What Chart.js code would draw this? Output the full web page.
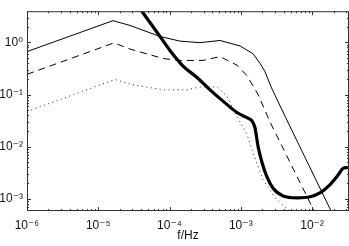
<!DOCTYPE html>
<html>
<head>
<meta charset="utf-8">
<script src="https://cdn.jsdelivr.net/npm/chart.js@4.4.0/dist/chart.umd.min.js"></script>
<style>
  html, body { margin: 0; padding: 0; background: #fff; }
</style>
</head>
<body>
<canvas id="psd-chart" width="349" height="246"></canvas>
<script>
// Tick values and labels (log axes, decades only)
const xTicks = [1e-6, 1e-5, 1e-4, 1e-3, 1e-2];
const xTickLabels = ['10⁻⁶', '10⁻⁵', '10⁻⁴', '10⁻³', '10⁻²'];
const yTicks = [1e-3, 1e-2, 1e-1, 1];
const yTickLabels = ['10⁻³', '10⁻²', '10⁻¹', '10⁰'];

// Thin solid curve
const solidFreq = [1e-6, 1.61e-5, 2.79e-5, 7.36e-5, 1.40e-4, 2.68e-4, 5.12e-4, 9.75e-4, 1.49e-3, 1.86e-3, 2.19e-3, 2.66e-3, 4.18e-3, 1.85e-2];
const solidVals = [0.667, 2.62, 2.12, 1.30, 1.06, 0.99, 1.09, 0.857, 0.605, 0.398, 0.273, 0.140, 0.0382, 5.8e-4];

// Dashed curve
const dashedFreq = [1e-6, 1.66e-5, 2.79e-5, 8.11e-5, 1.40e-4, 2.95e-4, 5.12e-4, 8.86e-4, 1.22e-3, 1.75e-3, 2.57e-3, 1.07e-2];
const dashedVals = [0.244, 0.98, 0.746, 0.491, 0.452, 0.452, 0.534, 0.366, 0.231, 0.100, 0.0297, 5.8e-4];

// Dotted curve
const dottedFreq = [1e-6, 1.72e-5, 2.79e-5, 8.11e-5, 1.76e-4, 2.68e-4, 4.65e-4, 6.41e-4, 7.78e-4, 9.75e-4, 1.22e-3, 1.49e-3, 2.05e-3, 3.03e-3, 4.32e-3, 5.24e-3];
const dottedVals = [0.047, 0.195, 0.158, 0.123, 0.123, 0.140, 0.140, 0.092, 0.0533, 0.0297, 0.0172, 0.00746, 0.00231, 0.00104, 6.58e-4, 5.5e-4];

// Thick curve
const thickFreq = [3.27e-5, 7.36e-5, 1.02e-4, 1.55e-4, 2.43e-4, 3.70e-4, 5.63e-4, 8.86e-4, 1.26e-3, 1.44e-3, 1.58e-3, 1.75e-3, 1.99e-3, 2.33e-3, 2.84e-3, 3.92e-3, 6.15e-3, 9.37e-3, 1.29e-2, 1.79e-2, 2.32e-2, 2.72e-2, 3.2e-2];
const thickVals = [6.05, 1.30, 0.695, 0.351, 0.212, 0.123, 0.0746, 0.0451, 0.0351, 0.031, 0.0231, 0.01, 0.00491, 0.00262, 0.00158, 0.00113, 0.00104, 0.00109, 0.00129, 0.00187, 0.00285, 0.00382, 0.00398];

const axisColor = '#333';
const fontFamily = '"Liberation Sans", Arial, "DejaVu Sans", sans-serif';

function toPoints(xs, ys) {
    return xs.map((x, i) => ({ x: x, y: ys[i] }));
}

// Box around the plot with inward major/minor ticks on all four sides
const boxTicks = {
    id: 'boxTicks',
    afterDraw(chart) {
        const { ctx, chartArea: a, scales } = chart;
        ctx.save();
        ctx.strokeStyle = axisColor;
        ctx.lineWidth = 1;
        ctx.beginPath();
        for (let d = -7; d <= 1; d++) {
            for (let m = 1; m <= 9; m++) {
                const v = m * Math.pow(10, d);
                const len = m === 1 ? 4 : 2;
                if (v >= scales.x.min && v <= scales.x.max) {
                    const px = Math.round(scales.x.getPixelForValue(v)) + 0.5;
                    ctx.moveTo(px, a.bottom); ctx.lineTo(px, a.bottom - len);
                    ctx.moveTo(px, a.top); ctx.lineTo(px, a.top + len);
                }
                if (v >= scales.y.min && v <= scales.y.max) {
                    const py = Math.round(scales.y.getPixelForValue(v)) + 0.5;
                    ctx.moveTo(a.left, py); ctx.lineTo(a.left + len, py);
                    ctx.moveTo(a.right, py); ctx.lineTo(a.right - len, py);
                }
            }
        }
        ctx.stroke();
        ctx.strokeRect(a.left + 0.5, a.top + 0.5, a.right - a.left - 1, a.bottom - a.top - 1);
        ctx.restore();
    }
};

const ctx = document.getElementById('psd-chart').getContext('2d');
new Chart(ctx, {
    type: 'line',
    data: {
        datasets: [
            {
                label: 'solid',
                data: toPoints(solidFreq, solidVals),
                borderColor: '#000',
                borderWidth: 1,
                pointRadius: 0,
                tension: 0
            },
            {
                label: 'dashed',
                data: toPoints(dashedFreq, dashedVals),
                borderColor: '#000',
                borderWidth: 1,
                borderDash: [7, 5],
                pointRadius: 0,
                tension: 0
            },
            {
                label: 'dotted',
                data: toPoints(dottedFreq, dottedVals),
                borderColor: '#222',
                borderWidth: 1,
                borderDash: [1, 3.5],
                pointRadius: 0,
                tension: 0
            },
            {
                label: 'thick',
                data: toPoints(thickFreq, thickVals),
                borderColor: '#000',
                borderWidth: 3.2,
                pointRadius: 0,
                cubicInterpolationMode: 'monotone'
            }
        ]
    },
    options: {
        responsive: false,
        animation: false,
        layout: { padding: { top: 0, right: 0, bottom: 0, left: 0 } },
        plugins: {
            legend: { display: false },
            tooltip: { enabled: false }
        },
        scales: {
            x: {
                type: 'logarithmic',
                min: 1e-6,
                max: 3.3e-2,
                grid: { display: false, drawTicks: false },
                border: { display: false },
                afterBuildTicks: scale => { scale.ticks = xTicks.map(v => ({ value: v })); },
                afterFit: scale => { scale.height = 35; },
                ticks: {
                    autoSkip: false,
                    maxRotation: 0,
                    padding: 7,
                    color: '#111',
                    font: { family: fontFamily, size: 12 },
                    callback: (value, index) => xTickLabels[index]
                },
                title: {
                    display: true,
                    text: 'f/Hz',
                    color: '#111',
                    font: { family: fontFamily, size: 12 },
                    padding: { top: 0, bottom: 3 }
                }
            },
            y: {
                type: 'logarithmic',
                min: 5.8e-4,
                max: 3.98,
                grid: { display: false, drawTicks: false },
                border: { display: false },
                afterBuildTicks: scale => { scale.ticks = yTicks.map(v => ({ value: v })); },
                afterFit: scale => { scale.width = 27; },
                ticks: {
                    autoSkip: false,
                    padding: 4,
                    color: '#111',
                    font: { family: fontFamily, size: 12 },
                    callback: (value, index) => yTickLabels[index]
                }
            }
        }
    },
    plugins: [boxTicks]
});
</script>
</body>
</html>
